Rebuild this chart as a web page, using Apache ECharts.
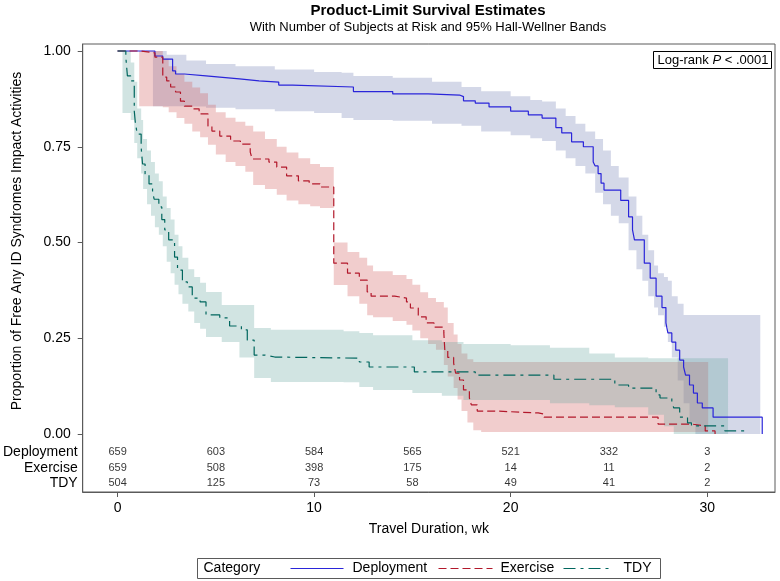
<!DOCTYPE html>
<html><head><meta charset="utf-8">
<script src="https://cdn.jsdelivr.net/npm/echarts@6/dist/echarts.min.js"></script>
<style>html,body{margin:0;padding:0;background:#fff}#c{width:780px;height:581px}</style>
</head><body><div id="c"></div>
<script>
// ---------------- DATA ----------------
const categories = ['Deployment', 'Exercise', 'TDY'];

const depTime = [0,1.9,2.3,2.8,2.95,3.4,4.5,5.2,6.2,7.2,8.2,8.9,12.0,14.0,15.8,17.4,17.6,18.2,18.9,20.0,20.9,21.6,22.3,22.6,23.1,23.7,24.2,24.3,24.45,24.6,24.75,25.6,26.0,26.2,26.3,26.8,27.1,27.4,27.7,27.9,28.0,28.2,28.4,28.6,28.8,28.9,29.1,29.3,29.5,29.75,30.3,32.8];
const depSurv = [1.0,0.987,0.979,0.948,0.94,0.935,0.932,0.927,0.922,0.919,0.911,0.906,0.894,0.888,0.885,0.881,0.870,0.864,0.854,0.843,0.833,0.825,0.80,0.786,0.763,0.75,0.71,0.70,0.68,0.655,0.637,0.61,0.567,0.533,0.507,0.446,0.407,0.36,0.33,0.29,0.264,0.24,0.219,0.193,0.175,0.154,0.128,0.107,0.081,0.068,0.044,0.0];

const exeTime = [0,1.2,1.9,2.3,2.5,2.7,2.95,3.2,3.4,3.8,4.15,4.6,4.8,5.2,5.75,6.25,6.75,6.85,7.7,8.1,8.6,9.2,9.75,10.3,11.0,11.7,12.3,12.7,12.9,14.1,14.7,14.9,15.3,15.7,16.1,16.6,16.65,16.8,17.1,17.2,17.4,17.6,17.9,18.0,18.3,19.2,21.4,21.7,27.5,29.2,29.9,30.4];
const exeSurv = [1.0,0.995,0.984,0.932,0.922,0.906,0.893,0.869,0.856,0.849,0.836,0.804,0.791,0.778,0.765,0.757,0.736,0.718,0.71,0.697,0.674,0.661,0.653,0.645,0.446,0.42,0.402,0.371,0.36,0.355,0.345,0.329,0.306,0.29,0.279,0.264,0.219,0.2,0.185,0.159,0.141,0.115,0.094,0.076,0.06,0.055,0.052,0.044,0.026,0.021,0.008,0];

const tdyTime = [0,0.42,0.5,0.67,0.85,0.9,1.0,1.2,1.27,1.4,1.6,1.78,1.86,2.1,2.25,2.4,2.6,2.9,3.05,3.3,3.55,3.8,4.2,4.5,5.2,5.7,6.3,6.6,6.95,7.5,8.0,12.3,12.8,15.1,18.2,22.2,25.3,26.0,27.4,27.6,28.2,28.3,28.6,29.0,29.2,30.9,31.9];
const tdySurv = [1.0,0.984,0.935,0.922,0.843,0.815,0.783,0.749,0.705,0.679,0.653,0.632,0.613,0.593,0.56,0.533,0.507,0.462,0.428,0.397,0.384,0.355,0.345,0.311,0.303,0.282,0.272,0.245,0.206,0.201,0.198,0.188,0.175,0.162,0.154,0.143,0.128,0.12,0.102,0.094,0.084,0.068,0.044,0.029,0.021,0.008,0.008];

// Hall-Wellner bands (step start times, lower, upper; last time = end of band)
const depBandTime = [1.8,2.5,3.5,4.5,6,8,10,11.4,12,14,16,17.5,18.5,20,21,21.6,22.3,22.8,23.3,23.8,24.3,24.7,25.1,25.5,26.0,26.4,26.7,27.0,27.3,27.5,27.8,28.0,28.2,28.5,28.8,29.1,29.4,32.7];
const depBandLow  = [0.856,0.856,0.855,0.852,0.848,0.843,0.838,0.825,0.82,0.818,0.81,0.805,0.79,0.78,0.772,0.765,0.74,0.72,0.70,0.68,0.63,0.60,0.57,0.55,0.48,0.43,0.40,0.36,0.33,0.31,0.28,0.24,0.2,0.14,0.08,0.03,0,0];
const depBandHigh = [1.0,0.99,0.975,0.966,0.96,0.952,0.945,0.943,0.935,0.93,0.92,0.906,0.895,0.882,0.872,0.868,0.85,0.83,0.81,0.79,0.77,0.74,0.70,0.67,0.62,0.57,0.52,0.48,0.44,0.42,0.41,0.40,0.36,0.34,0.311,0.311,0.311,0.311];

const exeBandTime = [1.1,2.3,2.6,3.0,3.4,3.8,4.2,4.6,5.0,5.5,6.0,6.5,6.9,7.5,8.1,8.6,9.2,9.8,10.3,11.0,11.7,12.3,12.7,13.0,14.0,14.7,15.0,15.4,15.8,16.2,16.6,16.8,17.1,17.3,17.5,17.8,18.1,18.5,30.05];
const exeBandLow  = [0.856,0.853,0.84,0.825,0.81,0.79,0.775,0.755,0.73,0.71,0.70,0.685,0.65,0.64,0.625,0.61,0.60,0.595,0.59,0.389,0.36,0.34,0.31,0.305,0.295,0.285,0.27,0.25,0.235,0.22,0.18,0.15,0.12,0.09,0.06,0.03,0.01,0.005,0.005];
const exeBandHigh = [1.0,0.98,0.96,0.94,0.92,0.905,0.89,0.86,0.84,0.826,0.815,0.805,0.79,0.77,0.75,0.735,0.72,0.705,0.697,0.50,0.475,0.46,0.44,0.425,0.415,0.405,0.39,0.37,0.355,0.345,0.33,0.29,0.26,0.235,0.21,0.195,0.188,0.188,0.188];

const tdyBandTime = [0.25,0.67,0.85,1.0,1.2,1.3,1.5,1.7,1.9,2.1,2.3,2.5,2.7,2.9,3.1,3.3,3.6,3.9,4.2,4.5,5.3,6.2,6.95,7.8,11.5,12.3,13,15,16.5,17.6,20,22,24,25.3,27,27.8,28.3,31.06];
const tdyBandLow  = [0.838,0.82,0.76,0.72,0.68,0.64,0.6,0.57,0.54,0.52,0.49,0.45,0.42,0.39,0.365,0.34,0.32,0.29,0.275,0.253,0.24,0.2,0.146,0.136,0.135,0.123,0.115,0.107,0.1,0.089,0.089,0.08,0.075,0.07,0.05,0.02,0,0];
const tdyBandHigh = [1.0,0.97,0.92,0.85,0.82,0.77,0.74,0.71,0.68,0.66,0.62,0.59,0.56,0.52,0.49,0.46,0.43,0.41,0.395,0.371,0.337,0.337,0.277,0.272,0.268,0.264,0.258,0.245,0.24,0.235,0.232,0.225,0.21,0.2,0.198,0.198,0.198,0.198];

// Number at risk
const riskTimes = [0,5,10,15,20,25,30];
const riskDeployment = [659,603,584,565,521,332,3];
const riskExercise   = [659,508,398,175,14,11,2];
const riskTDY        = [504,125,73,58,49,41,2];

const xTicks = [0,10,20,30];
const yTicks = [0,0.25,0.5,0.75,1];

// ---------------- STYLE / LAYOUT ----------------
const FONT = '"Liberation Sans", Arial, Helvetica, sans-serif';
const lineColors = ['#2A25D9', '#B2182B', '#01665E'];
const bandColors = ['rgba(111,126,179,0.30)', 'rgba(208,91,91,0.30)', 'rgba(102,165,160,0.30)'];
const dashTypes = ['solid', [8, 4], [12, 5, 3, 5]];
const rowY = [-0.047, -0.089, -0.128];   // table rows inside the plot frame
const AX = '#5a5a5a';

const curves = [[depTime, depSurv], [exeTime, exeSurv], [tdyTime, tdySurv]];
const bands = [
  {t: depBandTime, lo: depBandLow, hi: depBandHigh},
  {t: exeBandTime, lo: exeBandLow, hi: exeBandHigh},
  {t: tdyBandTime, lo: tdyBandLow, hi: tdyBandHigh}
];
const risks = [riskDeployment, riskExercise, riskTDY];

const series = [];
bands.forEach((b, i) => {
  series.push({
    type: 'custom', name: categories[i] + ' band', silent: true, z: 1,
    data: b.t.map((t, k) => [t, b.lo[k], b.hi[k]]),
    encode: {x: 0, y: [1, 2]},
    renderItem: function (params, api) {
      if (params.dataIndex !== 0) return null;
      const up = [], dn = [];
      for (let k = 0; k < b.t.length - 1; k++) {
        up.push(api.coord([b.t[k], b.hi[k]]), api.coord([b.t[k + 1], b.hi[k]]));
        dn.push(api.coord([b.t[k], b.lo[k]]), api.coord([b.t[k + 1], b.lo[k]]));
      }
      return {type: 'polygon', shape: {points: up.concat(dn.reverse())}, style: {fill: bandColors[i], stroke: null}};
    }
  });
});
curves.forEach((c, i) => {
  series.push({
    type: 'line', name: categories[i], step: 'end', symbol: 'none', z: 3, silent: true,
    data: c[0].map((t, k) => [t, c[1][k]]),
    lineStyle: {color: lineColors[i], width: 1.2, type: dashTypes[i]}
  });
});
risks.forEach((r, i) => {
  series.push({
    type: 'scatter', name: categories[i] + ' at risk', silent: true, z: 4,
    symbolSize: 1, itemStyle: {color: 'rgba(0,0,0,0)'},
    data: riskTimes.map((t, k) => [t, rowY[i], r[k]]),
    label: {show: true, position: 'inside', formatter: p => String(p.value[2]),
            fontSize: 11, color: '#000', fontFamily: FONT}
  });
});

const chart = echarts.init(document.getElementById('c'), null, {renderer: 'canvas'});
chart.setOption({
  animation: false,
  backgroundColor: '#fff',
  textStyle: {fontFamily: FONT},
  title: [
    {text: 'Product-Limit Survival Estimates', left: 428, top: 3, textAlign: 'center', padding: 0,
     textStyle: {fontSize: 15, fontWeight: 'bold', color: '#000', fontFamily: FONT}},
    {text: 'With Number of Subjects at Risk and 95% Hall-Wellner Bands', left: 428, top: 21, textAlign: 'center', padding: 0,
     textStyle: {fontSize: 13, fontWeight: 'normal', color: '#000', fontFamily: FONT}}
  ],
  grid: {left: 80, right: 5, top: 44, bottom: 89, show: true, borderColor: AX, borderWidth: 1, containLabel: false},
  xAxis: {
    type: 'value', min: -1.774, max: 33.45,
    splitLine: {show: false},
    axisLine: {show: true, onZero: false, lineStyle: {color: AX, width: 1}},
    axisTick: {show: true, customValues: xTicks, length: 5, lineStyle: {color: AX}},
    axisLabel: {customValues: xTicks, fontSize: 14, color: '#000', margin: 9, fontFamily: FONT},
    name: 'Travel Duration, wk', nameLocation: 'middle', nameGap: 30,
    nameTextStyle: {fontSize: 14, color: '#000', fontFamily: FONT}
  },
  yAxis: [
    {
      type: 'value', position: 'left', min: -0.1514, max: 1.0183,
      splitLine: {show: false},
      axisLine: {show: true, onZero: false, lineStyle: {color: AX, width: 1}},
      axisTick: {show: true, customValues: yTicks, length: 5, lineStyle: {color: AX}},
      axisLabel: {customValues: yTicks, formatter: v => Number(v).toFixed(2), fontSize: 14, color: '#000', margin: 12, fontFamily: FONT}
    },
    {
      type: 'value', position: 'left', min: -0.1514, max: 1.0183,
      splitLine: {show: false}, axisLine: {show: false}, axisTick: {show: false},
      axisLabel: {customValues: rowY, margin: 5, fontSize: 14, color: '#000', fontFamily: FONT,
        formatter: v => { const k = rowY.findIndex(r => Math.abs(r - v) < 1e-6); return k >= 0 ? categories[k] : ''; }}
    }
  ],
  series: series,
  graphic: [
    {type: 'text', x: 17, y: 241, rotation: Math.PI / 2, z: 10,
     style: {text: 'Proportion of Free Any ID Syndromes Impact Activities', font: '14px ' + FONT, fill: '#000', align: 'center', verticalAlign: 'middle'}},
    {type: 'group', left: 653, top: 51, z: 10, children: [
      {type: 'rect', shape: {x: 0, y: 0, width: 118, height: 17}, style: {fill: '#fff', stroke: '#000', lineWidth: 1}},
      {type: 'text', x: 4, y: 9, style: {text: '{a|Log-rank }{b|P}{a| < .0001}', verticalAlign: 'middle',
        rich: {a: {fontSize: 13, fontFamily: FONT, fill: '#000'}, b: {fontSize: 13, fontFamily: FONT, fontStyle: 'italic', fill: '#000'}}}}
    ]},
    {type: 'group', left: 197, top: 558, z: 10, children: [
      {type: 'rect', shape: {x: 0, y: 0, width: 463, height: 20}, style: {fill: '#fff', stroke: AX, lineWidth: 1}},
      {type: 'text', x: 6, y: 10, style: {text: 'Category', font: '14px ' + FONT, fill: '#000', verticalAlign: 'middle'}},
      {type: 'line', shape: {x1: 93, y1: 10, x2: 146, y2: 10}, style: {stroke: lineColors[0], lineWidth: 1.2}},
      {type: 'text', x: 155, y: 10, style: {text: categories[0], font: '14px ' + FONT, fill: '#000', verticalAlign: 'middle'}},
      {type: 'line', shape: {x1: 241, y1: 10, x2: 295, y2: 10}, style: {stroke: lineColors[1], lineWidth: 1.2, lineDash: [8, 4]}},
      {type: 'text', x: 303, y: 10, style: {text: categories[1], font: '14px ' + FONT, fill: '#000', verticalAlign: 'middle'}},
      {type: 'line', shape: {x1: 366, y1: 10, x2: 416, y2: 10}, style: {stroke: lineColors[2], lineWidth: 1.2, lineDash: [12, 5, 3, 5]}},
      {type: 'text', x: 426, y: 10, style: {text: categories[2], font: '14px ' + FONT, fill: '#000', verticalAlign: 'middle'}}
    ]}
  ]
});
</script>
</body></html>
